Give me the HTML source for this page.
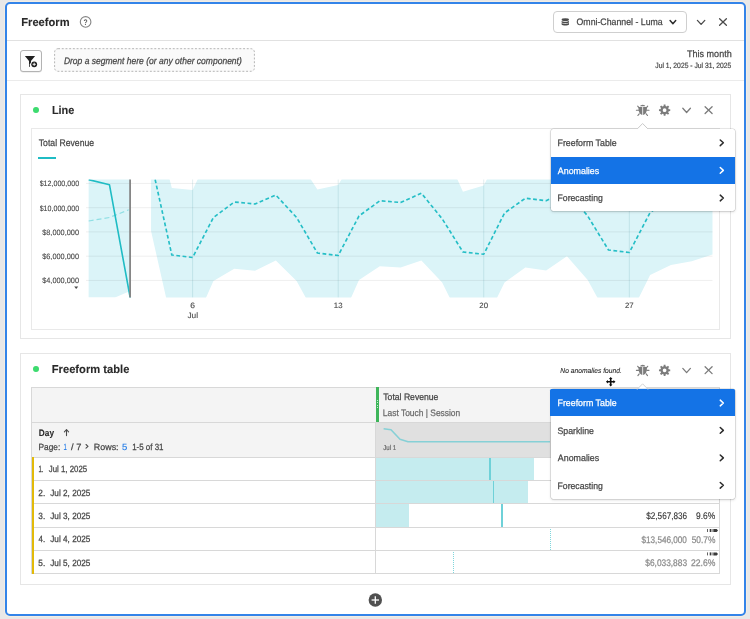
<!DOCTYPE html>
<html lang="en">
<head>
<meta charset="utf-8">
<title>Freeform</title>
<style>
*{box-sizing:border-box;margin:0;padding:0}
html,body{width:750px;height:619px;overflow:hidden;background:#e8e8e8}
body{position:relative;font-family:"Liberation Sans",Arial,sans-serif;color:#464646}
.abs,.t,svg.ov{position:absolute}
svg.ov{left:0;top:0;width:750px;height:619px;pointer-events:none}
.t{white-space:pre;line-height:1;font-weight:400;text-rendering:geometricPrecision;will-change:transform}
.i{display:inline-block;transform-origin:0 0}
.frame{left:5px;top:2px;width:741px;height:613.7px;background:#fff;border:2px solid #3384e9;border-radius:5px;box-shadow:0 0 0 1px #f4ede3}
.hr{height:1px;background:#e1e1e1;left:7px;width:737px}
.dropdown{left:553.1px;top:10.8px;width:133.6px;height:21.8px;border:1px solid #cfcfcf;border-radius:4px;background:#fff}
.fbtn{left:20.2px;top:50.2px;width:21.7px;height:21.8px;border:1px solid #b3b3b3;border-radius:3px;background:#fcfcfc;box-shadow:0 0.5px 0 rgba(0,0,0,.12)}
.dropzone{left:54.1px;top:48.2px;width:200.8px;height:23.6px;border-radius:4px;background:#fafafa}
.panel{left:20px;width:710.6px;border:1px solid #e6e6e6;background:#fff}
.chartbox{left:31.4px;top:127.6px;width:688.3px;height:202.1px;border:1px solid #e9e9e9;background:#fff}
.legend{left:38.4px;top:156.5px;width:17.6px;height:2px;background:#1fbcc4}
.dot{width:5.8px;height:5.8px;border-radius:50%;background:#3ddb6f}
.cell{position:absolute}
.menu{left:550.7px;width:184.2px;background:#fff;border-radius:2.5px;box-shadow:0 0 0 0.6px rgba(0,0,0,.17),0 1px 3px rgba(0,0,0,.16)}
.sel{position:absolute;left:0;right:0;background:#1473e6}
</style>
</head>
<body>
<main>
<div class="abs frame"></div>

<header>
<div class="abs hr" style="top:39.8px"></div>
<div class="abs dropdown"></div>
<div class="abs fbtn"></div>
<div class="abs dropzone"></div>
<div class="abs hr" style="top:79.6px;background:#ebebeb"></div>
<svg class="ov" viewBox="0 0 750 619" aria-hidden="true">
<rect x="54.6" y="48.7" width="199.8" height="22.6" rx="3.5" fill="none" stroke="#b6b6b6" stroke-width="1" stroke-dasharray="1.9 1.8"/>
<circle cx="85.6" cy="21.9" r="5.3" fill="none" stroke="#858585" stroke-width="1.1"/>
<g fill="#4b4b4b"><ellipse cx="565.3" cy="19.7" rx="3.7" ry="1.4"/><path d="M561.6 20.9c0.9 1.1 6.5 1.1 7.4 0v1.5c-0.9 1.1 -6.5 1.1 -7.4 0z"/><path d="M561.6 23.1c0.9 1.1 6.5 1.1 7.4 0v1.3c-0.9 1.3 -6.5 1.3 -7.4 0z"/></g>
<polyline points="670.10,20.55 672.90,23.65 675.70,20.55" fill="none" stroke="#2c2c2c" stroke-width="1.5" stroke-linecap="round" stroke-linejoin="round"/>
<polyline points="697.40,20.40 701.10,24.40 704.80,20.40" fill="none" stroke="#4b4b4b" stroke-width="1.3" stroke-linecap="round" stroke-linejoin="round"/>
<g fill="none" stroke="#4b4b4b" stroke-width="1.3" stroke-linecap="round"><path d="M719.60 18.80L726.40 25.20"/><path d="M726.40 18.80L719.60 25.20"/></g>
<g fill="#1e1e1e"><path d="M24.9 56h10.2l-4.1 5v1.5a3.6 3.6 0 0 0 -1.0 4.3h-1.0v-5.8z"/><circle cx="34.2" cy="64.3" r="2.9"/></g><g stroke="#fff" stroke-width="0.9" fill="none"><path d="M32.6 64.3h3.2"/><path d="M34.2 62.7v3.2"/></g>
</svg>
<span class="t" style="left:21px;top:18px;font-size:11.5px;color:#2a2a2a;font-weight:700;-webkit-text-stroke:0.1px currentColor;"><span class="i" style="transform:translateX(0.27px) scaleX(0.9691)">Freeform</span></span>
<span class="t" style="left:83px;top:18px;font-size:8.2px;color:#5e5e5e;transform:translate3d(0,0.90px,0);font-weight:700;"><span class="i" style="transform:translateX(0.59px) scaleX(0.8250)">?</span></span>
<span class="t" style="left:576px;top:17px;font-size:9.4px;color:#464646;transform:translate3d(0,0.10px,0);-webkit-text-stroke:0.25px currentColor;"><span class="i" style="transform:translateX(0.53px) scaleX(0.9341)">Omni-Channel - Luma</span></span>
<span class="t" style="left:63px;top:56px;font-size:9.5px;color:#464646;transform:translate3d(0,0.70px,0);font-style:italic;-webkit-text-stroke:0.25px currentColor;"><span class="i" style="transform:translateX(0.88px) scaleX(0.8961)">Drop a segment here (or any other component)</span></span>
<span class="t" style="left:687px;top:49px;font-size:9.6px;color:#464646;transform:translate3d(0,0.80px,0);-webkit-text-stroke:0.25px currentColor;"><span class="i" style="transform:translateX(0.07px) scaleX(0.9398)">This month</span></span>
<span class="t" style="left:655px;top:62px;font-size:7.6px;color:#464646;transform:translate3d(0,0.10px,0);-webkit-text-stroke:0.2px currentColor;"><span class="i" style="transform:translateX(0.28px) scaleX(0.8920)">Jul 1, 2025 - Jul 31, 2025</span></span>
</header>

<section aria-label="Line">
<div class="abs panel" style="top:94.4px;height:244.6px"></div>
<div class="abs dot" style="left:33.2px;top:107.1px"></div>
<div class="abs chartbox"></div>
<div class="abs legend"></div>
<svg class="ov" viewBox="0 0 750 619" aria-hidden="true">
<defs><clipPath id="cc"><rect x="80" y="179.5" width="640" height="117.89999999999998"/></clipPath></defs>
<g clip-path="url(#cc)"><polygon points="88.65,140.00 130.24,140.00 130.24,291.00 115.00,297.40 88.65,297.40" fill="#dbf4f8"/><polygon points="151.04,107.00 171.83,188.00 192.62,190.00 213.42,146.00 234.22,140.00 255.01,140.00 275.81,140.00 296.60,157.50 317.39,189.50 338.19,185.00 358.99,150.00 379.78,140.00 400.58,140.00 421.37,140.00 442.17,145.50 462.96,191.75 483.75,185.50 504.55,144.00 525.35,140.00 546.14,140.00 566.94,140.00 587.73,150.00 608.52,190.00 629.32,186.00 650.12,146.00 670.91,140.00 691.71,140.00 712.50,140.00 712.50,254.50 691.71,261.25 670.91,265.00 650.12,275.00 629.32,317.00 608.52,318.00 587.73,280.00 566.94,256.25 546.14,270.50 525.35,267.50 504.55,282.50 483.75,324.80 462.96,324.50 442.17,282.50 421.37,260.50 400.58,267.50 379.78,266.25 358.99,280.00 338.19,326.70 317.39,318.80 296.60,281.00 275.81,260.50 255.01,270.75 234.22,268.75 213.42,281.00 192.62,328.00 171.83,323.00 151.04,231.00" fill="#dbf4f8"/></g>
<rect x="86" y="182.90" width="626.5" height="1" fill="#000" fill-opacity="0.065"/>
<rect x="86" y="207.20" width="626.5" height="1" fill="#000" fill-opacity="0.065"/>
<rect x="86" y="231.40" width="626.5" height="1" fill="#000" fill-opacity="0.065"/>
<rect x="86" y="255.70" width="626.5" height="1" fill="#000" fill-opacity="0.065"/>
<rect x="86" y="279.90" width="626.5" height="1" fill="#000" fill-opacity="0.065"/>
<rect x="192.12" y="179.5" width="1" height="117.89999999999998" fill="#0a6f78" fill-opacity="0.12"/>
<rect x="337.69" y="179.5" width="1" height="117.89999999999998" fill="#0a6f78" fill-opacity="0.12"/>
<rect x="483.25" y="179.5" width="1" height="117.89999999999998" fill="#0a6f78" fill-opacity="0.12"/>
<rect x="628.82" y="179.5" width="1" height="117.89999999999998" fill="#0a6f78" fill-opacity="0.12"/>
<polyline points="88.65,221.00 109.45,217.50 128.74,209.80" fill="none" stroke="#8fdfe4" stroke-width="1.2" stroke-dasharray="5 3"/>
<g clip-path="url(#cc)"><polyline points="151.04,161.00 171.83,255.00 192.62,257.50 213.42,217.50 234.22,202.00 255.01,204.00 275.81,195.00 296.60,217.50 317.39,253.00 338.19,255.50 358.99,216.00 379.78,200.75 400.58,202.50 421.37,193.25 442.17,218.75 462.96,252.00 483.75,254.25 504.55,213.00 525.35,198.25 546.14,200.75 566.94,191.00 587.73,216.00 608.52,250.00 629.32,252.50 650.12,212.50 670.91,198.00 691.71,200.00 712.50,190.00" fill="none" stroke="#25bec6" stroke-width="1.65" stroke-dasharray="3.8 2.5" stroke-linejoin="round"/>
<polyline points="88.65,179.60 109.45,184.70 130.24,298.00" fill="none" stroke="#1fbcc4" stroke-width="1.6" stroke-linejoin="round"/></g>
<rect x="129.2" y="179.5" width="1.8" height="117.89999999999998" fill="#868686"/>
<polygon points="74.2,286.4 78.2,286.4 76.2,288.9" fill="#4b4b4b"/>
<path d="M640.10 106.35a2.6 1.6 0 0 1 5.2 0z" fill="#7c7c7c"/><path d="M642.30 106.90h-3.6c-0.6 3.2 0.2 7.0 3.6 8.1z" fill="#7c7c7c"/><path d="M643.10 106.90h3.6c0.6 3.2 -0.2 7.0 -3.6 8.1z" fill="#7c7c7c"/><path d="M639.10 107.80L637.70 106.20M638.60 110.20L636.40 110.20M639.20 113.80L637.90 115.50M646.30 107.80L647.70 106.20M646.80 110.20L649.00 110.20M646.20 113.80L647.50 115.50" stroke="#7c7c7c" stroke-width="1.15" fill="none" stroke-linecap="round"/>
<path d="M663.69 104.57L665.51 104.57L665.56 106.09L666.82 106.62L667.94 105.58L669.22 106.86L668.18 107.98L668.71 109.24L670.23 109.29L670.23 111.11L668.71 111.16L668.18 112.42L669.22 113.54L667.94 114.82L666.82 113.78L665.56 114.31L665.51 115.83L663.69 115.83L663.64 114.31L662.38 113.78L661.26 114.82L659.98 113.54L661.02 112.42L660.49 111.16L658.97 111.11L658.97 109.29L660.49 109.24L661.02 107.98L659.98 106.86L661.26 105.58L662.38 106.62L663.64 106.09ZM662.72 110.20a1.88 1.88 0 1 0 3.76 0a1.88 1.88 0 1 0 -3.76 0Z" fill="#7c7c7c" fill-rule="evenodd"/>
<polyline points="682.80,108.30 686.60,112.50 690.40,108.30" fill="none" stroke="#7c7c7c" stroke-width="1.3" stroke-linecap="round" stroke-linejoin="round"/>
<g fill="none" stroke="#7c7c7c" stroke-width="1.3" stroke-linecap="round"><path d="M705.10 106.70L712.10 113.50"/><path d="M712.10 106.70L705.10 113.50"/></g>
</svg>
<span class="t" style="left:51px;top:106px;font-size:11.5px;color:#2a2a2a;transform:translate3d(0,0.30px,0);font-weight:700;-webkit-text-stroke:0.1px currentColor;"><span class="i" style="transform:translateX(0.89px) scaleX(0.9511)">Line</span></span>
<span class="t" style="left:38px;top:139px;font-size:9.6px;color:#464646;-webkit-text-stroke:0.25px currentColor;"><span class="i" style="transform:translateX(0.77px) scaleX(0.9021)">Total Revenue</span></span>
<span class="t" style="left:39px;top:180px;font-size:7.8px;color:#464646;transform:translate3d(0,0.30px,0);-webkit-text-stroke:0.1px currentColor;"><span class="i" style="transform:translateX(0.67px) scaleX(0.9099)">$12,000,000</span></span>
<span class="t" style="left:39px;top:204px;font-size:7.8px;color:#464646;transform:translate3d(0,0.60px,0);-webkit-text-stroke:0.1px currentColor;"><span class="i" style="transform:translateX(0.67px) scaleX(0.9099)">$10,000,000</span></span>
<span class="t" style="left:42px;top:228px;font-size:7.8px;color:#464646;transform:translate3d(0,0.80px,0);-webkit-text-stroke:0.1px currentColor;"><span class="i" style="transform:translateX(0.16px) scaleX(0.9455)">$8,000,000</span></span>
<span class="t" style="left:42px;top:253px;font-size:7.8px;color:#464646;transform:translate3d(0,0.10px,0);-webkit-text-stroke:0.1px currentColor;"><span class="i" style="transform:translateX(0.16px) scaleX(0.9455)">$6,000,000</span></span>
<span class="t" style="left:42px;top:277px;font-size:7.8px;color:#464646;transform:translate3d(0,0.30px,0);-webkit-text-stroke:0.1px currentColor;"><span class="i" style="transform:translateX(0.16px) scaleX(0.9455)">$4,000,000</span></span>
<span class="t" style="left:190px;top:301px;font-size:7.8px;color:#464646;transform:translate3d(0,0.50px,0);-webkit-text-stroke:0.1px currentColor;"><span class="i" style="transform:translateX(0.16px) scaleX(1.0857)">6</span></span>
<span class="t" style="left:333px;top:301px;font-size:7.8px;color:#464646;transform:translate3d(0,0.50px,0);-webkit-text-stroke:0.1px currentColor;"><span class="i" style="transform:translateX(0.80px) scaleX(1.0065)">13</span></span>
<span class="t" style="left:479px;top:301px;font-size:7.8px;color:#464646;transform:translate3d(0,0.50px,0);-webkit-text-stroke:0.1px currentColor;"><span class="i" style="transform:translateX(0.30px) scaleX(1.0065)">20</span></span>
<span class="t" style="left:624px;top:301px;font-size:7.8px;color:#464646;transform:translate3d(0,0.50px,0);-webkit-text-stroke:0.1px currentColor;"><span class="i" style="transform:translateX(0.90px) scaleX(1.0065)">27</span></span>
<span class="t" style="left:187px;top:312px;font-size:7.8px;color:#464646;transform:translate3d(0,0.20px,0);-webkit-text-stroke:0.1px currentColor;"><span class="i" style="transform:translateX(0.44px) scaleX(1.0595)">Jul</span></span>
<nav aria-label="Line visualization menu">
<div class="abs menu" style="top:128.9px;height:82.6px"><div class="sel" style="top:28.1px;height:26.9px"></div></div>
<svg class="ov" viewBox="0 0 750 619" aria-hidden="true">
<path d="M637.2 129.0L642.6 123.5L648 129.0" fill="#fff" stroke="#c9c9c9" stroke-width="1" stroke-linejoin="round"/>
<rect x="637.9" y="128.7" width="9.4" height="1.4" fill="#fff"/>
<polyline points="720.25,139.95 723.35,142.80 720.25,145.65" fill="none" stroke="#2c2c2c" stroke-width="1.5" stroke-linecap="round" stroke-linejoin="round"/>
<polyline points="720.25,167.55 723.35,170.40 720.25,173.25" fill="none" stroke="#ffffff" stroke-width="1.5" stroke-linecap="round" stroke-linejoin="round"/>
<polyline points="720.25,195.15 723.35,198.00 720.25,200.85" fill="none" stroke="#2c2c2c" stroke-width="1.5" stroke-linecap="round" stroke-linejoin="round"/>
</svg>
<span class="t" style="left:557px;top:138px;font-size:9.3px;color:#464646;transform:translate3d(0,0.80px,0);-webkit-text-stroke:0.25px currentColor;"><span class="i" style="transform:translateX(0.49px) scaleX(0.9502)">Freeform Table</span></span>
<span class="t" style="left:557px;top:166px;font-size:9.3px;color:#ffffff;transform:translate3d(0,0.60px,0);-webkit-text-stroke:0.25px currentColor;"><span class="i" style="transform:translateX(0.80px) scaleX(0.9535)">Anomalies</span></span>
<span class="t" style="left:557px;top:194px;font-size:9.3px;color:#464646;transform:translate3d(0,0.30px,0);-webkit-text-stroke:0.25px currentColor;"><span class="i" style="transform:translateX(0.50px) scaleX(0.9333)">Forecasting</span></span>
</nav>
</section>

<section aria-label="Freeform table">
<div class="abs panel" style="top:353.2px;height:231.8px"></div>
<div class="abs dot" style="left:33px;top:366px"></div>
<div class="tablegrid">
<div class="cell" style="left:31.40px;top:386.70px;width:688.20px;height:35.20px;background:#f4f4f4;"></div>
<div class="cell" style="left:31.40px;top:421.90px;width:344.20px;height:34.90px;background:#f4f4f4;"></div>
<div class="cell" style="left:375.60px;top:421.90px;width:344.00px;height:34.90px;background:#e0e0e0;"></div>
<div class="cell" style="left:31.40px;top:456.80px;width:688.20px;height:116.50px;background:#ffffff;"></div>
<div class="cell" style="left:376.00px;top:456.80px;width:157.60px;height:23.20px;background:#c5ecef;"></div>
<div class="cell" style="left:376.00px;top:480.00px;width:151.60px;height:23.40px;background:#c5ecef;"></div>
<div class="cell" style="left:376.00px;top:503.40px;width:32.60px;height:23.50px;background:#c5ecef;"></div>
<div class="cell" style="left:489.20px;top:456.80px;width:1.70px;height:23.20px;background:#6fd1d8;"></div>
<div class="cell" style="left:492.60px;top:480.00px;width:1.70px;height:23.40px;background:#6fd1d8;"></div>
<div class="cell" style="left:501.00px;top:503.40px;width:1.70px;height:23.50px;background:#6fd1d8;"></div>
<div class="cell" style="left:549.9px;top:526.9px;width:0;height:23.4px;border-left:1px dotted #7fd6dc"></div>
<div class="cell" style="left:452.9px;top:550.3px;width:0;height:23.0px;border-left:1px dotted #7fd6dc"></div>
<div class="cell" style="left:31.40px;top:386.60px;width:688.20px;height:1.00px;background:#d8d8d8;"></div>
<div class="cell" style="left:31.40px;top:421.80px;width:688.20px;height:1.00px;background:#d8d8d8;"></div>
<div class="cell" style="left:31.40px;top:456.70px;width:688.20px;height:1.00px;background:#d8d8d8;"></div>
<div class="cell" style="left:31.40px;top:479.90px;width:688.20px;height:1.00px;background:#d8d8d8;"></div>
<div class="cell" style="left:31.40px;top:503.30px;width:688.20px;height:1.00px;background:#d8d8d8;"></div>
<div class="cell" style="left:31.40px;top:526.80px;width:688.20px;height:1.00px;background:#d8d8d8;"></div>
<div class="cell" style="left:31.40px;top:550.20px;width:688.20px;height:1.00px;background:#d8d8d8;"></div>
<div class="cell" style="left:31.40px;top:573.20px;width:688.20px;height:1.00px;background:#d8d8d8;"></div>
<div class="cell" style="left:31.40px;top:386.70px;width:1.00px;height:187.50px;background:#d8d8d8;"></div>
<div class="cell" style="left:718.60px;top:386.70px;width:1.00px;height:187.50px;background:#d8d8d8;"></div>
<div class="cell" style="left:375.10px;top:421.90px;width:1.00px;height:151.40px;background:#d8d8d8;"></div>
<div class="cell" style="left:31.70px;top:457.30px;width:2.20px;height:116.30px;background:#e2ba09;"></div>
<div class="cell" style="left:376.10px;top:387.10px;width:3.40px;height:34.50px;background:#3eb55a;"></div>
<div class="cell" style="left:377.40px;top:400.30px;width:0.90px;height:0.90px;background:#c9efd2;"></div>
<div class="cell" style="left:377.40px;top:402.40px;width:0.90px;height:0.90px;background:#c9efd2;"></div>
<div class="cell" style="left:377.40px;top:404.50px;width:0.90px;height:0.90px;background:#c9efd2;"></div>
<div class="cell" style="left:377.40px;top:406.60px;width:0.90px;height:0.90px;background:#c9efd2;"></div>
</div>
<svg class="ov" viewBox="0 0 750 619" aria-hidden="true">
<path d="M640.10 366.45a2.6 1.6 0 0 1 5.2 0z" fill="#7c7c7c"/><path d="M642.30 367.00h-3.6c-0.6 3.2 0.2 7.0 3.6 8.1z" fill="#7c7c7c"/><path d="M643.10 367.00h3.6c0.6 3.2 -0.2 7.0 -3.6 8.1z" fill="#7c7c7c"/><path d="M639.10 367.90L637.70 366.30M638.60 370.30L636.40 370.30M639.20 373.90L637.90 375.60M646.30 367.90L647.70 366.30M646.80 370.30L649.00 370.30M646.20 373.90L647.50 375.60" stroke="#7c7c7c" stroke-width="1.15" fill="none" stroke-linecap="round"/>
<path d="M663.69 364.67L665.51 364.67L665.56 366.19L666.82 366.72L667.94 365.68L669.22 366.96L668.18 368.08L668.71 369.34L670.23 369.39L670.23 371.21L668.71 371.26L668.18 372.52L669.22 373.64L667.94 374.92L666.82 373.88L665.56 374.41L665.51 375.93L663.69 375.93L663.64 374.41L662.38 373.88L661.26 374.92L659.98 373.64L661.02 372.52L660.49 371.26L658.97 371.21L658.97 369.39L660.49 369.34L661.02 368.08L659.98 366.96L661.26 365.68L662.38 366.72L663.64 366.19ZM662.72 370.30a1.88 1.88 0 1 0 3.76 0a1.88 1.88 0 1 0 -3.76 0Z" fill="#7c7c7c" fill-rule="evenodd"/>
<polyline points="682.80,368.40 686.60,372.60 690.40,368.40" fill="none" stroke="#7c7c7c" stroke-width="1.3" stroke-linecap="round" stroke-linejoin="round"/>
<g fill="none" stroke="#7c7c7c" stroke-width="1.3" stroke-linecap="round"><path d="M705.10 366.80L712.10 373.60"/><path d="M712.10 366.80L705.10 373.60"/></g>
<path d="M66.5 435.6V429.6M64.4 431.8L66.5 429.5L68.6 431.8" stroke="#4b4b4b" stroke-width="1.1" fill="none" stroke-linecap="round" stroke-linejoin="round"/>
<polyline points="86.00,444.50 88.00,446.30 86.00,448.10" fill="none" stroke="#4b4b4b" stroke-width="1.1" stroke-linecap="round" stroke-linejoin="round"/>
<polyline points="383.6,428.8 391,429.8 400,439.2 408,441.8 550,441.8" fill="none" stroke="#86d0d6" stroke-width="1.6" stroke-linejoin="round"/>
<g fill="#3a3a3a"><rect x="707.0" y="529.0" width="0.8" height="3"/><rect x="709.7" y="529.0" width="1.7" height="3"/><rect x="712.0" y="529.0" width="1.0" height="3" fill-opacity="0.45"/><path d="M713.3 529.0h3.4l1.3 1.5l-1.3 1.5h-3.4z"/></g>
<g fill="#3a3a3a"><rect x="707.0" y="552.4" width="0.8" height="3"/><rect x="709.7" y="552.4" width="1.7" height="3"/><rect x="712.0" y="552.4" width="1.0" height="3" fill-opacity="0.45"/><path d="M713.3 552.4h3.4l1.3 1.5l-1.3 1.5h-3.4z"/></g>
<path d="M610.7 376.9l1.8 2.1h-1.0v1.9h1.9v-1.0l2.1 1.8l-2.1 1.8v-1.0h-1.9v1.9h1.0l-1.8 2.1l-1.8 -2.1h1.0v-1.9h-1.9v1.0l-2.1 -1.8l2.1 -1.8v1.0h1.9v-1.9h-1.0z" fill="#0c0c0c" stroke="#fff" stroke-width="1.4" stroke-linejoin="round" paint-order="stroke"/>
</svg>
<span class="t" style="left:51px;top:365px;font-size:11.5px;color:#2a2a2a;transform:translate3d(0,0.10px,0);font-weight:700;-webkit-text-stroke:0.1px currentColor;"><span class="i" style="transform:translateX(0.77px) scaleX(0.9714)">Freeform table</span></span>
<span class="t" style="left:560px;top:367px;font-size:7.2px;color:#2a2a2a;transform:translate3d(0,0.10px,0);font-style:italic;-webkit-text-stroke:0.1px currentColor;"><span class="i" style="transform:translateX(0.37px) scaleX(0.9328)">No anomalies found.</span></span>
<span class="t" style="left:383px;top:393px;font-size:9.3px;color:#464646;transform:translate3d(0,0.10px,0);-webkit-text-stroke:0.25px currentColor;"><span class="i" style="transform:translateX(0.27px) scaleX(0.9277)">Total Revenue</span></span>
<span class="t" style="left:382px;top:408px;font-size:9.3px;color:#6a6a6a;transform:translate3d(0,0.90px,0);-webkit-text-stroke:0.25px currentColor;"><span class="i" style="transform:translateX(0.82px) scaleX(0.9060)">Last Touch | Session</span></span>
<span class="t" style="left:383px;top:445px;font-size:7.0px;color:#666666;transform:translate3d(0,0.30px,0);-webkit-text-stroke:0.2px currentColor;"><span class="i" style="transform:translateX(0.28px) scaleX(0.8702)">Jul 1</span></span>
<span class="t" style="left:38px;top:428px;font-size:9.3px;color:#2a2a2a;transform:translate3d(0,0.70px,0);font-weight:700;-webkit-text-stroke:0.1px currentColor;"><span class="i" style="transform:translateX(0.85px) scaleX(0.8909)">Day</span></span>
<span class="t" style="left:38px;top:442px;font-size:9.0px;color:#464646;transform:translate3d(0,0.80px,0);-webkit-text-stroke:0.25px currentColor;"><span class="i" style="transform:translateX(0.51px) scaleX(0.9227)">Page:</span></span>
<span class="t" style="left:63px;top:442px;font-size:9.0px;color:#1d78e6;transform:translate3d(0,0.80px,0);-webkit-text-stroke:0.1px currentColor;"><span class="i" style="transform:translateX(0.50px) scaleX(0.6667)">1</span></span>
<span class="t" style="left:71px;top:442px;font-size:9.0px;color:#464646;transform:translate3d(0,0.80px,0);-webkit-text-stroke:0.25px currentColor;"><span class="i" style="transform:translateX(0.00px) scaleX(1.0316)">/ 7</span></span>
<span class="t" style="left:93px;top:442px;font-size:9.0px;color:#464646;transform:translate3d(0,0.80px,0);-webkit-text-stroke:0.25px currentColor;"><span class="i" style="transform:translateX(0.86px) scaleX(0.9872)">Rows:</span></span>
<span class="t" style="left:122px;top:442px;font-size:9.0px;color:#1d78e6;transform:translate3d(0,0.80px,0);-webkit-text-stroke:0.1px currentColor;"><span class="i" style="transform:translateX(0.07px) scaleX(1.0500)">5</span></span>
<span class="t" style="left:132px;top:442px;font-size:9.0px;color:#464646;transform:translate3d(0,0.80px,0);-webkit-text-stroke:0.25px currentColor;"><span class="i" style="transform:translateX(0.14px) scaleX(0.8818)">1-5 of 31</span></span>
<span class="t" style="left:38px;top:465px;font-size:9.0px;color:#464646;transform:translate3d(0,0.20px,0);-webkit-text-stroke:0.25px currentColor;"><span class="i" style="transform:translateX(0.50px) scaleX(0.6667)">1.</span></span>
<span class="t" style="left:48px;top:465px;font-size:9.0px;color:#464646;transform:translate3d(0,0.20px,0);-webkit-text-stroke:0.25px currentColor;"><span class="i" style="transform:translateX(0.78px) scaleX(0.8717)">Jul 1, 2025</span></span>
<span class="t" style="left:38px;top:488px;font-size:9.0px;color:#464646;transform:translate3d(0,0.60px,0);-webkit-text-stroke:0.25px currentColor;"><span class="i" style="transform:translateX(0.34px) scaleX(0.9120)">2.</span></span>
<span class="t" style="left:50px;top:488px;font-size:9.0px;color:#464646;transform:translate3d(0,0.60px,0);-webkit-text-stroke:0.25px currentColor;"><span class="i" style="transform:translateX(0.27px) scaleX(0.9110)">Jul 2, 2025</span></span>
<span class="t" style="left:38px;top:512px;font-size:9.0px;color:#464646;-webkit-text-stroke:0.25px currentColor;"><span class="i" style="transform:translateX(0.34px) scaleX(0.9120)">3.</span></span>
<span class="t" style="left:50px;top:512px;font-size:9.0px;color:#464646;-webkit-text-stroke:0.25px currentColor;"><span class="i" style="transform:translateX(0.27px) scaleX(0.9110)">Jul 3, 2025</span></span>
<span class="t" style="left:38px;top:535px;font-size:9.0px;color:#464646;transform:translate3d(0,0.40px,0);-webkit-text-stroke:0.25px currentColor;"><span class="i" style="transform:translateX(0.58px) scaleX(0.8769)">4.</span></span>
<span class="t" style="left:50px;top:535px;font-size:9.0px;color:#464646;transform:translate3d(0,0.40px,0);-webkit-text-stroke:0.25px currentColor;"><span class="i" style="transform:translateX(0.27px) scaleX(0.9110)">Jul 4, 2025</span></span>
<span class="t" style="left:38px;top:558px;font-size:9.0px;color:#464646;transform:translate3d(0,0.80px,0);-webkit-text-stroke:0.25px currentColor;"><span class="i" style="transform:translateX(0.34px) scaleX(0.9120)">5.</span></span>
<span class="t" style="left:50px;top:558px;font-size:9.0px;color:#464646;transform:translate3d(0,0.80px,0);-webkit-text-stroke:0.25px currentColor;"><span class="i" style="transform:translateX(0.27px) scaleX(0.9110)">Jul 5, 2025</span></span>
<span class="t" style="left:646px;top:512px;font-size:9.6px;color:#303030;transform:translate3d(0,0.40px,0);-webkit-text-stroke:0.12px currentColor;"><span class="i" style="transform:translateX(0.29px) scaleX(0.8487)">$2,567,836</span></span>
<span class="t" style="left:696px;top:512px;font-size:9.6px;color:#303030;transform:translate3d(0,0.40px,0);-webkit-text-stroke:0.12px currentColor;"><span class="i" style="transform:translateX(0.06px) scaleX(0.8810)">9.6%</span></span>
<span class="t" style="left:641px;top:535px;font-size:9.6px;color:#8c8c8c;transform:translate3d(0,0.80px,0);-webkit-text-stroke:0.25px currentColor;"><span class="i" style="transform:translateX(0.49px) scaleX(0.8512)">$13,546,000</span></span>
<span class="t" style="left:691px;top:535px;font-size:9.6px;color:#8c8c8c;transform:translate3d(0,0.80px,0);-webkit-text-stroke:0.25px currentColor;"><span class="i" style="transform:translateX(0.66px) scaleX(0.8724)">50.7%</span></span>
<span class="t" style="left:645px;top:559px;font-size:9.6px;color:#8c8c8c;transform:translate3d(0,0.10px,0);-webkit-text-stroke:0.25px currentColor;"><span class="i" style="transform:translateX(0.28px) scaleX(0.8698)">$6,033,883</span></span>
<span class="t" style="left:691px;top:559px;font-size:9.6px;color:#8c8c8c;transform:translate3d(0,0.10px,0);-webkit-text-stroke:0.25px currentColor;"><span class="i" style="transform:translateX(0.05px) scaleX(0.8952)">22.6%</span></span>
<nav aria-label="Table visualization menu">
<div class="abs menu" style="top:389px;height:109.9px"><div class="sel" style="top:0;left:-0.6px;right:-0.5px;height:27.3px;border-radius:1.5px 1.5px 0 0"></div></div>
<svg class="ov" viewBox="0 0 750 619" aria-hidden="true">
<path d="M637.2 389.3L642.6 383.8L648 389.3z" fill="#fff" stroke="#d2d2d2" stroke-width="1" stroke-linejoin="round"/>
<rect x="637.6" y="388.90000000000003" width="10" height="1.2" fill="#1473e6"/>
<polyline points="720.25,400.15 723.35,403.00 720.25,405.85" fill="none" stroke="#ffffff" stroke-width="1.5" stroke-linecap="round" stroke-linejoin="round"/>
<polyline points="720.25,427.55 723.35,430.40 720.25,433.25" fill="none" stroke="#2c2c2c" stroke-width="1.5" stroke-linecap="round" stroke-linejoin="round"/>
<polyline points="720.25,455.05 723.35,457.90 720.25,460.75" fill="none" stroke="#2c2c2c" stroke-width="1.5" stroke-linecap="round" stroke-linejoin="round"/>
<polyline points="720.25,482.45 723.35,485.30 720.25,488.15" fill="none" stroke="#2c2c2c" stroke-width="1.5" stroke-linecap="round" stroke-linejoin="round"/>
</svg>
<span class="t" style="left:557px;top:399px;font-size:9.3px;color:#ffffff;transform:translate3d(0,0.30px,0);-webkit-text-stroke:0.25px currentColor;"><span class="i" style="transform:translateX(0.49px) scaleX(0.9502)">Freeform Table</span></span>
<span class="t" style="left:557px;top:426px;font-size:9.3px;color:#464646;transform:translate3d(0,0.80px,0);-webkit-text-stroke:0.25px currentColor;"><span class="i" style="transform:translateX(0.43px) scaleX(0.9430)">Sparkline</span></span>
<span class="t" style="left:557px;top:454px;font-size:9.3px;color:#464646;transform:translate3d(0,0.30px,0);-webkit-text-stroke:0.25px currentColor;"><span class="i" style="transform:translateX(0.80px) scaleX(0.9535)">Anomalies</span></span>
<span class="t" style="left:557px;top:481px;font-size:9.3px;color:#464646;transform:translate3d(0,0.70px,0);-webkit-text-stroke:0.25px currentColor;"><span class="i" style="transform:translateX(0.50px) scaleX(0.9333)">Forecasting</span></span>
</nav>
</section>

<footer>
<svg class="ov" viewBox="0 0 750 619" aria-hidden="true">
<circle cx="375.3" cy="600" r="6.7" fill="#505050"/><g stroke="#fff" stroke-width="1.3" fill="none"><path d="M371.6 600h7.4"/><path d="M375.3 596.3v7.4"/></g>
</svg>
</footer>
</main>
</body>
</html>
